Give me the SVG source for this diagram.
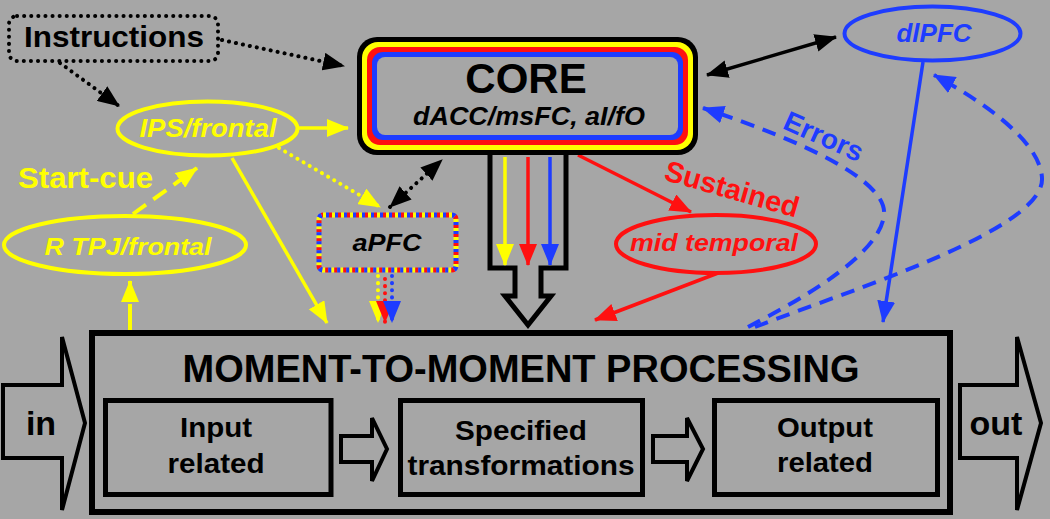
<svg xmlns="http://www.w3.org/2000/svg" width="1050" height="519" viewBox="0 0 1050 519">
<style>
text{font-family:"Liberation Sans",Arial,Helvetica,sans-serif;font-weight:bold}
.it{font-style:italic}
.blk{fill:#000}
.yel{fill:#ffff00}
.red{fill:#ff1010}
.blu{fill:#1e3cff}
.mid{text-anchor:middle}
.box{fill:none;stroke:#000;stroke-width:5}
.hollow{fill:#a6a6a6;stroke:#000;stroke-width:4;stroke-linejoin:miter}
.dot{fill:none;stroke-width:4;stroke-linecap:round;stroke-dasharray:0.1 7}
</style>
<defs>
<marker id="ak" viewBox="0 0 22 18" refX="21" refY="9" markerWidth="22" markerHeight="18" markerUnits="userSpaceOnUse" orient="auto-start-reverse"><path d="M0,0 L22,9 L0,18 z" fill="#000"/></marker>
<marker id="ay" viewBox="0 0 22 18" refX="21" refY="9" markerWidth="22" markerHeight="18" markerUnits="userSpaceOnUse" orient="auto"><path d="M0,0 L22,9 L0,18 z" fill="#ffff00"/></marker>
<marker id="ar" viewBox="0 0 22 18" refX="21" refY="9" markerWidth="22" markerHeight="18" markerUnits="userSpaceOnUse" orient="auto"><path d="M0,0 L22,9 L0,18 z" fill="#ff1010"/></marker>
<marker id="ab" viewBox="0 0 22 18" refX="21" refY="9" markerWidth="22" markerHeight="18" markerUnits="userSpaceOnUse" orient="auto"><path d="M0,0 L22,9 L0,18 z" fill="#1e3cff"/></marker>
</defs>
<rect x="0" y="0" width="1050" height="519" fill="#a6a6a6"/>

<g id="connectors">
  <!-- Instructions -> CORE, Instructions -> IPS -->
  <path d="M222 40 L344 66" class="dot" stroke="#000" marker-end="url(#ak)"/>
  <path d="M60 63 L119 106" class="dot" stroke="#000" marker-end="url(#ak)"/>
  <!-- IPS -> CORE -->
  <path d="M299 128 L348 128" stroke="#ffff00" stroke-width="3.5" fill="none" marker-end="url(#ay)"/>
  <!-- IPS -> aPFC dotted -->
  <path d="M279 148 L380 207" class="dot" stroke="#ffff00" marker-end="url(#ay)"/>
  <!-- IPS -> bottom -->
  <path d="M232 158 L327 323" stroke="#ffff00" stroke-width="3.5" fill="none" marker-end="url(#ay)"/>
  <!-- R TPJ -> IPS dashed -->
  <path d="M133 214 L197 168" stroke="#ffff00" stroke-width="4" stroke-dasharray="16 9" fill="none" marker-end="url(#ay)"/>
  <!-- bottom -> R TPJ dashed -->
  <path d="M130 330 L130 281" stroke="#ffff00" stroke-width="4" stroke-dasharray="26 8" fill="none" marker-end="url(#ay)"/>
  <!-- aPFC <-> CORE -->
  <path d="M390 207 L442 160" class="dot" stroke="#000" marker-start="url(#ak)" marker-end="url(#ak)"/>
  <!-- aPFC -> bottom (three colours) -->
  <path d="M378 276 L378 322" class="dot" stroke="#ffff00" marker-end="url(#ay)"/>
  <path d="M385 279 L385 322" class="dot" stroke="#ff1010" marker-end="url(#ar)"/>
  <path d="M392 276 L392 322" class="dot" stroke="#1e3cff" marker-end="url(#ab)"/>
  <!-- CORE <-> dlPFC -->
  <path d="M707 75 L836 37" stroke="#000" stroke-width="3.5" fill="none" marker-start="url(#ak)" marker-end="url(#ak)"/>
  <!-- big hollow arrow from CORE -->
  <path d="M490 154 L490 268 L515 268 L515 296 L505 296 L528 325 L551 296 L541 296 L541 268 L566 268 L566 154" fill="#a6a6a6" stroke="#000" stroke-width="5"/>
  <path d="M505 157 L505 265" stroke="#ffff00" stroke-width="3.5" fill="none" marker-end="url(#ay)"/>
  <path d="M528 157 L528 265" stroke="#ff1010" stroke-width="3.5" fill="none" marker-end="url(#ar)"/>
  <path d="M550 157 L550 265" stroke="#1e3cff" stroke-width="3.5" fill="none" marker-end="url(#ab)"/>
  <!-- CORE -> mid temporal -->
  <path d="M578 155 L691 212" stroke="#ff1010" stroke-width="3.5" fill="none" marker-end="url(#ar)"/>
  <!-- mid temporal -> bottom -->
  <path d="M718 273 L595 320" stroke="#ff1010" stroke-width="3.5" fill="none" marker-end="url(#ar)"/>
  <!-- dlPFC -> bottom -->
  <path d="M923 62 L883 322" stroke="#1e3cff" stroke-width="3.5" fill="none" marker-end="url(#ab)"/>
  <!-- Errors dashed -> CORE -->
  <path d="M748 327 C800 300, 880 255, 884 215 C888 180, 800 140, 703 108" stroke="#1e3cff" stroke-width="4" stroke-dasharray="14 9" fill="none" marker-end="url(#ab)"/>
  <!-- dashed -> dlPFC -->
  <path d="M755 327 C850 290, 1045 230, 1042 178 C1040 140, 980 100, 934 75" stroke="#1e3cff" stroke-width="4" stroke-dasharray="14 9" fill="none" marker-end="url(#ab)"/>
</g>

<g id="instructions">
  <rect x="9" y="16" width="209" height="45" rx="8" class="dot" stroke="#000"/>
  <text x="114" y="47" class="mid blk" font-size="30" textLength="180" lengthAdjust="spacingAndGlyphs">Instructions</text>
</g>

<g id="ips-frontal">
  <ellipse cx="207.5" cy="128.5" rx="90" ry="27" fill="none" stroke="#ffff00" stroke-width="4"/>
  <text x="208" y="137" class="mid yel it" font-size="25" textLength="137" lengthAdjust="spacingAndGlyphs">IPS/frontal</text>
</g>

<g id="start-cue-label">
  <text x="18" y="188" class="yel" font-size="29" textLength="135" lengthAdjust="spacingAndGlyphs">Start-cue</text>
</g>

<g id="r-tpj-frontal">
  <ellipse cx="125" cy="245" rx="121" ry="29" fill="none" stroke="#ffff00" stroke-width="4"/>
  <text x="128" y="255" class="mid yel it" font-size="24" textLength="167" lengthAdjust="spacingAndGlyphs">R TPJ/frontal</text>
</g>

<g id="core">
  <rect x="357" y="37" width="341" height="118" rx="20" fill="#000"/>
  <rect x="362" y="42" width="331" height="108" rx="16" fill="#ffff00"/>
  <rect x="367" y="47" width="321" height="98" rx="13" fill="#ff1010"/>
  <rect x="372" y="52" width="311" height="88" rx="11" fill="#1e3cff"/>
  <rect x="377" y="57" width="301" height="78" rx="8" fill="#a6a6a6"/>
  <text x="526" y="93" class="mid blk" font-size="42">CORE</text>
  <text x="529" y="125" class="mid blk it" font-size="26" textLength="232" lengthAdjust="spacingAndGlyphs">dACC/msFC, aI/fO</text>
</g>

<g id="apfc">
  <rect x="319" y="215" width="137" height="55" rx="4" fill="none" stroke="#ffff00" stroke-width="5" stroke-dasharray="3 6"/>
  <rect x="319" y="215" width="137" height="55" rx="4" fill="none" stroke="#ff1010" stroke-width="5" stroke-dasharray="3 6" stroke-dashoffset="3"/>
  <rect x="319" y="215" width="137" height="55" rx="4" fill="none" stroke="#1e3cff" stroke-width="5" stroke-dasharray="3 6" stroke-dashoffset="6"/>
  <text x="387" y="251" class="mid blk it" font-size="24" textLength="69" lengthAdjust="spacingAndGlyphs">aPFC</text>
</g>

<g id="sustained-label">
  <text x="732" y="199" class="mid red" font-size="29" transform="rotate(16 732 189)">Sustained</text>
</g>

<g id="mid-temporal">
  <ellipse cx="716" cy="244" rx="100" ry="29" fill="none" stroke="#ff1010" stroke-width="4"/>
  <text x="714" y="251" class="mid red it" font-size="24" textLength="168" lengthAdjust="spacingAndGlyphs">mid temporal</text>
</g>

<g id="dlpfc">
  <ellipse cx="932.5" cy="33.5" rx="88" ry="27" fill="none" stroke="#1e3cff" stroke-width="4"/>
  <text x="934" y="42" class="mid blu it" font-size="25" textLength="75" lengthAdjust="spacingAndGlyphs">dlPFC</text>
</g>

<g id="errors-label">
  <text x="824" y="146" class="mid blu" font-size="28" transform="rotate(24 824 136)">Errors</text>
</g>

<g id="in-arrow">
  <path d="M3 385 L62 385 L62 337 L85 423 L62 510 L62 458 L3 458 Z" class="hollow"/>
  <text x="41" y="435" class="mid blk" font-size="34">in</text>
</g>

<g id="out-arrow">
  <path d="M960 385 L1017 385 L1017 337 L1041 423 L1017 510 L1017 458 L960 458 Z" class="hollow"/>
  <text x="996" y="435" class="mid blk" font-size="34">out</text>
</g>

<g id="moment-to-moment">
  <rect x="92" y="333" width="858" height="179" fill="none" stroke="#000" stroke-width="6"/>
  <text x="521" y="382" class="mid blk" font-size="38">MOMENT-TO-MOMENT PROCESSING</text>
</g>

<g id="input-related">
  <rect x="105.5" y="400.5" width="225.5" height="94" class="box"/>
  <text x="216" y="437" class="mid blk" font-size="28" textLength="72" lengthAdjust="spacingAndGlyphs">Input</text>
  <text x="216" y="473" class="mid blk" font-size="28" textLength="97" lengthAdjust="spacingAndGlyphs">related</text>
</g>

<g id="arrow-1">
  <path d="M341 436 L372 436 L372 418 L387 449 L372 481 L372 462 L341 462 Z" class="hollow"/>
</g>

<g id="specified-transformations">
  <rect x="400.5" y="400.5" width="242" height="94" class="box"/>
  <text x="521" y="440" class="mid blk" font-size="28" textLength="132" lengthAdjust="spacingAndGlyphs">Specified</text>
  <text x="521" y="475" class="mid blk" font-size="28" textLength="227" lengthAdjust="spacingAndGlyphs">transformations</text>
</g>

<g id="arrow-2">
  <path d="M653 436 L687 436 L687 418 L703 449 L687 481 L687 462 L653 462 Z" class="hollow"/>
</g>

<g id="output-related">
  <rect x="714.5" y="400.5" width="223" height="94" class="box"/>
  <text x="825" y="437" class="mid blk" font-size="28" textLength="96" lengthAdjust="spacingAndGlyphs">Output</text>
  <text x="825" y="472" class="mid blk" font-size="28" textLength="96" lengthAdjust="spacingAndGlyphs">related</text>
</g>
</svg>
